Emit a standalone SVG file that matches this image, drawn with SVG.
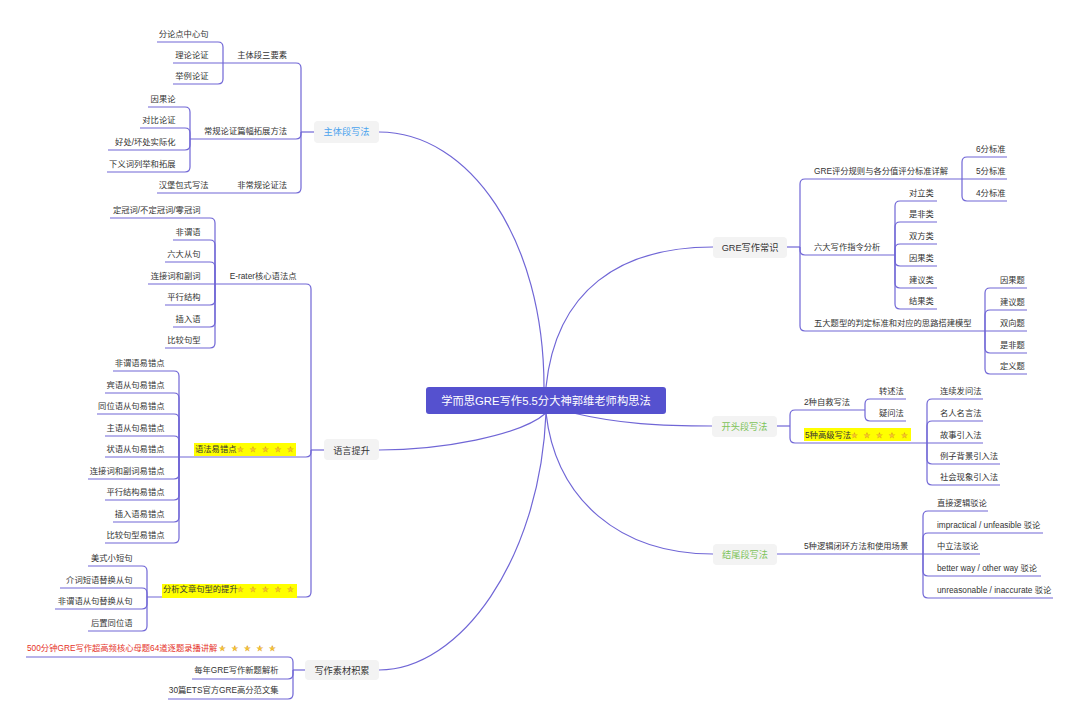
<svg xmlns="http://www.w3.org/2000/svg" width="1080" height="726" viewBox="0 0 1080 726">
<style>
text{font-family:"Liberation Sans","Noto Sans CJK SC",sans-serif;fill:#333}
.s{font-size:8.3px}
.e{text-anchor:end}
.m{font-size:9.2px;text-anchor:middle}
.mb{fill:#f3f3f3}
.c{fill:none;stroke:#7066d6;stroke-width:1.2}
.hl{fill:#ffff00}
.st{font-family:"DejaVu Sans",sans-serif;font-size:7.5px;fill:#f6c630;stroke:#d9951a;stroke-width:0.3}
.red{fill:#e53228}
</style>
<rect width="1080" height="726" fill="#ffffff"/>
<g id="connectors" class="c">
<path d="M544 387 C544 240 470 132 379 132"/>
<path d="M546 387 C556 290 620 247 713 247"/>
<path d="M573 413 C620 424 660 426 712 426"/>
<path d="M546 413 C556 500 620 554 713 554"/>
<path d="M546 413 C520 436 440 450 379 450"/>
<path d="M546 413 C540 560 460 670 379 670"/>
<path d="M787 247 H800"/>
<path d="M800 247 V184 Q800 179 805 179 H962"/>
<path d="M800 247 V250 Q800 255 805 255 H895"/>
<path d="M800 247 V326 Q800 331 805 331 H985"/>
<path d="M962 179 V162 Q962 157 967 157 H1007"/>
<path d="M962 179 H1007"/>
<path d="M962 179 V196 Q962 201 967 201 H1007"/>
<path d="M895 255 V206 Q895 201 900 201 H937"/>
<path d="M895 255 V227 Q895 222 900 222 H937"/>
<path d="M895 255 V249 Q895 244 900 244 H937"/>
<path d="M895 255 V261 Q895 266 900 266 H937"/>
<path d="M895 255 V283 Q895 288 900 288 H937"/>
<path d="M895 255 V304 Q895 309 900 309 H937"/>
<path d="M985 331 V293 Q985 288 990 288 H1027"/>
<path d="M985 331 V315 Q985 310 990 310 H1027"/>
<path d="M985 331 H1027"/>
<path d="M985 331 V348 Q985 353 990 353 H1027"/>
<path d="M985 331 V369 Q985 374 990 374 H1027"/>
<path d="M777 426 H790"/>
<path d="M790 426 V415 Q790 410 795 410 H865"/>
<path d="M790 426 V438 Q790 443 795 443 H927"/>
<path d="M865 410 V404 Q865 399 870 399 H906"/>
<path d="M865 410 V416 Q865 421 870 421 H906"/>
<path d="M927 443 V404 Q927 399 932 399 H983"/>
<path d="M927 443 V426 Q927 421 932 421 H983"/>
<path d="M927 443 H983"/>
<path d="M927 443 V459 Q927 464 932 464 H1000"/>
<path d="M927 443 V480 Q927 485 932 485 H1000"/>
<path d="M777 554 H923"/>
<path d="M923 554 V516 Q923 511 928 511 H988"/>
<path d="M923 554 V538 Q923 533 928 533 H1043"/>
<path d="M923 554 H980"/>
<path d="M923 554 V571 Q923 576 928 576 H1041"/>
<path d="M923 554 V593 Q923 598 928 598 H1053"/>
<path d="M314 132 H301"/>
<path d="M301 132 V68 Q301 63 296 63 H223"/>
<path d="M301 132 V134 Q301 139 296 139 H190"/>
<path d="M301 132 V188 Q301 193 296 193 H223"/>
<path d="M223 63 V47 Q223 42 218 42 H157"/>
<path d="M223 63 H173"/>
<path d="M223 63 V79 Q223 84 218 84 H173"/>
<path d="M190 139 V112 Q190 107 185 107 H148"/>
<path d="M190 139 V133 Q190 128 185 128 H140"/>
<path d="M190 139 V145 Q190 150 185 150 H108"/>
<path d="M190 139 V167 Q190 172 185 172 H107"/>
<path d="M223 193 H157"/>
<path d="M324 450 H311"/>
<path d="M311 450 V289 Q311 284 306 284 H215"/>
<path d="M311 450 V452 Q311 457 306 457 H179"/>
<path d="M311 450 V592 Q311 597 306 597 H147"/>
<path d="M215 284 V223 Q215 218 210 218 H110"/>
<path d="M215 284 V245 Q215 240 210 240 H173"/>
<path d="M215 284 V267 Q215 262 210 262 H165"/>
<path d="M215 284 H148"/>
<path d="M215 284 V300 Q215 305 210 305 H165"/>
<path d="M215 284 V322 Q215 327 210 327 H173"/>
<path d="M215 284 V343 Q215 348 210 348 H165"/>
<path d="M179 457 V376 Q179 371 174 371 H113"/>
<path d="M179 457 V398 Q179 393 174 393 H105"/>
<path d="M179 457 V419 Q179 414 174 414 H97"/>
<path d="M179 457 V441 Q179 436 174 436 H105"/>
<path d="M179 457 H105"/>
<path d="M179 457 V474 Q179 479 174 479 H88"/>
<path d="M179 457 V495 Q179 500 174 500 H105"/>
<path d="M179 457 V517 Q179 522 174 522 H113"/>
<path d="M179 457 V538 Q179 543 174 543 H105"/>
<path d="M147 597 V571 Q147 566 142 566 H88"/>
<path d="M147 597 V593 Q147 588 142 588 H60"/>
<path d="M147 597 V604 Q147 609 142 609 H55"/>
<path d="M147 597 V626 Q147 631 142 631 H88"/>
<path d="M305 670 H293"/>
<path d="M293 670 V662 Q293 657 288 657 H26"/>
<path d="M293 670 V674 Q293 679 288 679 H192"/>
<path d="M293 670 V694 Q293 699 288 699 H168"/>
</g>
<g id="root">
<rect x="426" y="387" width="240" height="27" rx="3" fill="#5551cf"/>
<text x="546" y="405" style="font-size:11.3px;fill:#ffffff;text-anchor:middle">学而思GRE写作5.5分大神郭维老师构思法</text>
</g>
<g id="n-zhuti"><rect class="mb" x="314" y="121" width="65" height="22" rx="4"/><text class="m" x="346.5" y="135.3" style="fill:#4ba3ee">主体段写法</text></g>
<g id="n-changshi"><rect class="mb" x="713" y="237" width="74" height="21" rx="4"/><text class="m" x="750" y="250.8">GRE写作常识</text></g>
<g id="n-kaitou"><rect class="mb" x="712" y="416" width="65" height="21" rx="4"/><text class="m" x="744.5" y="429.5" style="fill:#7dc35a">开头段写法</text></g>
<g id="n-jiewei"><rect class="mb" x="713" y="544" width="64" height="21" rx="4"/><text class="m" x="745" y="557.5" style="fill:#7dc35a">结尾段写法</text></g>
<g id="n-yuyan"><rect class="mb" x="324" y="439" width="55" height="21" rx="4"/><text class="m" x="351.5" y="453.5">语言提升</text></g>
<g id="n-sucai"><rect class="mb" x="305" y="660" width="74" height="20" rx="4"/><text class="m" x="342" y="673.5">写作素材积累</text></g>
<g id="n-pingfen"><text class="s" x="814" y="173.5">GRE评分规则与各分值评分标准详解</text></g>
<g id="n-6f"><text class="s" x="976" y="151.5">6分标准</text></g>
<g id="n-5f"><text class="s" x="976" y="173.5">5分标准</text></g>
<g id="n-4f"><text class="s" x="976" y="195.5">4分标准</text></g>
<g id="n-liuda"><text class="s" x="814" y="250">六大写作指令分析</text></g>
<g id="n-duili"><text class="s" x="909" y="195.5">对立类</text></g>
<g id="n-shifei"><text class="s" x="909" y="216.5">是非类</text></g>
<g id="n-shuangfang"><text class="s" x="909" y="238.5">双方类</text></g>
<g id="n-yinguo"><text class="s" x="909" y="260.5">因果类</text></g>
<g id="n-jianyi"><text class="s" x="909" y="282.5">建议类</text></g>
<g id="n-jieguo"><text class="s" x="909" y="303.5">结果类</text></g>
<g id="n-wuda"><text class="s" x="814" y="325.5">五大题型的判定标准和对应的思路搭建模型</text></g>
<g id="n-yinguoti"><text class="s" x="1000" y="282.5">因果题</text></g>
<g id="n-jianyiti"><text class="s" x="1000" y="304.5">建议题</text></g>
<g id="n-shuangxiang"><text class="s" x="1000" y="325.5">双向题</text></g>
<g id="n-shifeiti"><text class="s" x="1000" y="347.5">是非题</text></g>
<g id="n-dingyi"><text class="s" x="1000" y="368.5">定义题</text></g>
<g id="n-zijiu"><text class="s" x="804" y="404.5">2种自救写法</text></g>
<g id="n-zhuanshu"><text class="s" x="879" y="393.5">转述法</text></g>
<g id="n-yiwen"><text class="s" x="879" y="415.5">疑问法</text></g>
<g id="n-gaoji"><rect class="hl" x="804" y="428" width="107" height="13"/><text class="s" x="805" y="437.5">5种高级写法</text><text class="st" x="851 863.5 876 888.5 901" y="437.5">★★★★★</text></g>
<g id="n-lianxu"><text class="s" x="940" y="393.5">连续发问法</text></g>
<g id="n-mingren"><text class="s" x="940" y="415.5">名人名言法</text></g>
<g id="n-gushi"><text class="s" x="940" y="437.5">故事引入法</text></g>
<g id="n-lizi"><text class="s" x="940" y="458.5">例子背景引入法</text></g>
<g id="n-shehui"><text class="s" x="940" y="479.5">社会现象引入法</text></g>
<g id="n-bihuan"><text class="s" x="804" y="548.5">5种逻辑闭环方法和使用场景</text></g>
<g id="n-zhijie"><text class="s" x="937" y="505.5">直接逻辑驳论</text></g>
<g id="n-impractical"><text class="s" x="937" y="527.5">impractical / unfeasible 驳论</text></g>
<g id="n-zhongli"><text class="s" x="937" y="548.5">中立法驳论</text></g>
<g id="n-better"><text class="s" x="937" y="570.5">better way / other way 驳论</text></g>
<g id="n-unreasonable"><text class="s" x="937" y="592.5">unreasonable / inaccurate 驳论</text></g>
<g id="n-sanyaosu"><text class="s e" x="287" y="57.5">主体段三要素</text></g>
<g id="n-fenlundian"><text class="s e" x="208.5" y="36.5">分论点中心句</text></g>
<g id="n-lilun"><text class="s e" x="208.5" y="57.5">理论论证</text></g>
<g id="n-juli"><text class="s e" x="208.5" y="78.5">举例论证</text></g>
<g id="n-changgui"><text class="s e" x="287" y="133.5">常规论证篇幅拓展方法</text></g>
<g id="n-yinguolun"><text class="s e" x="175.5" y="101.5">因果论</text></g>
<g id="n-duibi"><text class="s e" x="175.5" y="122.5">对比论证</text></g>
<g id="n-haochu"><text class="s e" x="175.5" y="144.5">好处/坏处实际化</text></g>
<g id="n-xiayi"><text class="s e" x="175.5" y="166.5">下义词列举和拓展</text></g>
<g id="n-feichanggui"><text class="s e" x="287" y="187.5">非常规论证法</text></g>
<g id="n-hanbao"><text class="s e" x="208.5" y="187.5">汉堡包式写法</text></g>
<g id="n-erater"><text class="s e" x="296.5" y="278.5">E-rater核心语法点</text></g>
<g id="n-guanci"><text class="s e" x="200.5" y="212.5">定冠词/不定冠词/零冠词</text></g>
<g id="n-feiweiyu"><text class="s e" x="200.5" y="234.5">非谓语</text></g>
<g id="n-congju"><text class="s e" x="200.5" y="256.5">六大从句</text></g>
<g id="n-lianjie"><text class="s e" x="200.5" y="278.5">连接词和副词</text></g>
<g id="n-pingxing"><text class="s e" x="200.5" y="299.5">平行结构</text></g>
<g id="n-charu"><text class="s e" x="200.5" y="321.5">插入语</text></g>
<g id="n-bijiao"><text class="s e" x="200.5" y="342.5">比较句型</text></g>
<g id="n-yicuo"><rect class="hl" x="194" y="443" width="102" height="13"/><text class="s" x="195" y="451.5">语法易错点</text><text class="st" x="237 249.5 262 274.5 287" y="451.5">★★★★★</text></g>
<g id="n-e1"><text class="s e" x="164.5" y="365.5">非谓语易错点</text></g>
<g id="n-e2"><text class="s e" x="164.5" y="387.5">宾语从句易错点</text></g>
<g id="n-e3"><text class="s e" x="164.5" y="408.5">同位语从句易错点</text></g>
<g id="n-e4"><text class="s e" x="164.5" y="430.5">主语从句易错点</text></g>
<g id="n-e5"><text class="s e" x="164.5" y="451.5">状语从句易错点</text></g>
<g id="n-e6"><text class="s e" x="164.5" y="473.5">连接词和副词易错点</text></g>
<g id="n-e7"><text class="s e" x="164.5" y="494.5">平行结构易错点</text></g>
<g id="n-e8"><text class="s e" x="164.5" y="516.5">插入语易错点</text></g>
<g id="n-e9"><text class="s e" x="164.5" y="537.5">比较句型易错点</text></g>
<g id="n-jux"><rect class="hl" x="162" y="584" width="135" height="14"/><text class="s" x="163" y="591.5">分析文章句型的提升</text><text class="st" x="237 249.5 262 274.5 287" y="591.5">★★★★★</text></g>
<g id="n-meishi"><text class="s e" x="132.5" y="560.5">美式小短句</text></g>
<g id="n-jieci"><text class="s e" x="132.5" y="582.5">介词短语替换从句</text></g>
<g id="n-feiweiyucj"><text class="s e" x="132.5" y="603.5">非谓语从句替换从句</text></g>
<g id="n-houzhi"><text class="s e" x="132.5" y="625.5">后置同位语</text></g>
<g id="n-500"><text class="s red" x="27" y="651">500分钟GRE写作超高频核心母题64道逐题录播讲解</text><text class="st" x="219 231.5 244 256.5 269" y="651">★★★★★</text></g>
<g id="n-meinian"><text class="s e" x="278.5" y="673">每年GRE写作新题解析</text></g>
<g id="n-30pian"><text class="s e" x="278.5" y="693">30篇ETS官方GRE高分范文集</text></g>
</svg>
